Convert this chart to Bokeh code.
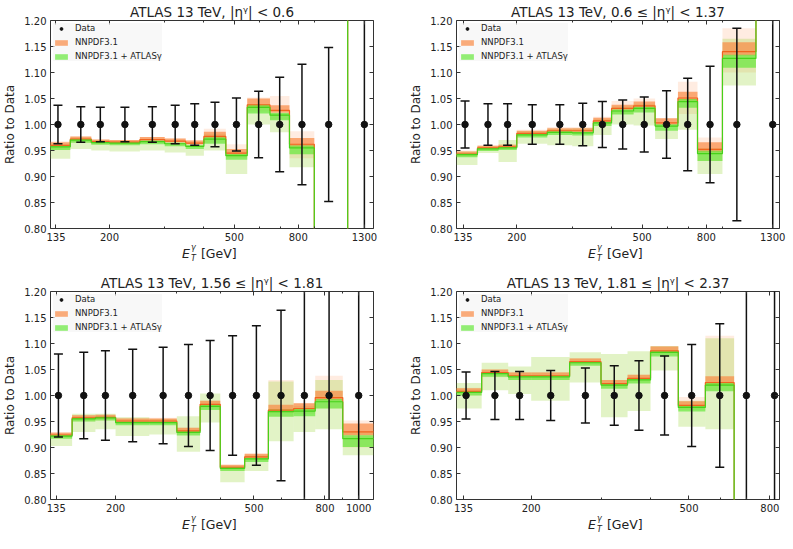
import math
from bokeh.plotting import figure
from bokeh.layouts import column, row
from bokeh.models import (Range1d, FixedTicker, PrintfTickFormatter, LinearAxis, LogAxis,
                          Legend, LegendItem, CustomJSTickFormatter, Div)
from bokeh.embed import file_html
from bokeh.resources import INLINE

FONT = "DejaVu Sans"

# ---------------- data ----------------
edges = [125, 150, 175, 200, 250, 300, 350, 400, 470, 550, 650, 750, 900, 1150, 1500]
et_points = [137, 162, 187, 224, 274, 324, 374, 434, 508, 598, 698, 822, 1000, 1300]
y_ticks = [0.80, 0.85, 0.90, 0.95, 1.00, 1.05, 1.10, 1.15, 1.20]

titles = ["ATLAS 13 TeV, |\u03b7\u1d5e| < 0.6",
          "ATLAS 13 TeV, 0.6 \u2264 |\u03b7\u1d5e| < 1.37",
          "ATLAS 13 TeV, 1.56 \u2264 |\u03b7\u1d5e| < 1.81",
          "ATLAS 13 TeV, 1.81 \u2264 |\u03b7\u1d5e| < 2.37"]
legend_labels = ["Data", "NNPDF3.1", "NNPDF3.1 + ATLAS\u03b3"]
x_label_html = ("<i>E</i><span style='position:relative;display:inline-block;width:7px;"
                "height:1px'><i style='position:absolute;left:1px;top:-14px;font-size:8px;"
                "line-height:9px'>\u03b3</i><i style='position:absolute;left:1px;top:-3px;"
                "font-size:8px;line-height:9px'>T</i></span> [GeV]")

x_ranges = [(129.7, 1390), (128.7, 1366), (130, 1103), (129.6, 846)]
major_ticks = [[135, 200, 500, 800, 1300], [135, 200, 500, 800, 1300],
               [135, 200, 500, 800, 1000], [135, 200, 500, 800]]
minor_ticks = [[300, 400, 600, 700, 900], [300, 400, 600, 700, 900],
               [300, 400, 600, 700, 900], [300, 400, 600, 700]]

# |eta| < 0.6
err_1 = [0.037, 0.034, 0.033, 0.033, 0.034, 0.037, 0.040, 0.043, 0.051, 0.064, 0.091, 0.116, 0.148, 0.35]
nn_1 = [0.960, 0.972, 0.967, 0.966, 0.971, 0.968, 0.964, 0.977, 0.945, 1.038, 1.027, 0.962, 0.55, 1.45]
ga_1 = [0.957, 0.970, 0.965, 0.964, 0.967, 0.963, 0.958, 0.972, 0.940, 1.033, 1.018, 0.955, 0.55, 1.45]
nn_lo_1 = [0.952, 0.965, 0.962, 0.961, 0.965, 0.962, 0.958, 0.965, 0.935, 1.025, 1.010, 0.935, 0.55, 1.45]
nn_hi_1 = [0.968, 0.977, 0.971, 0.970, 0.976, 0.973, 0.970, 0.992, 0.962, 1.052, 1.055, 0.987, 0.55, 1.45]
ga_lo_1 = [0.934, 0.953, 0.950, 0.948, 0.950, 0.946, 0.940, 0.950, 0.905, 1.000, 0.985, 0.918, 0.55, 1.45]
ga_hi_1 = [0.962, 0.975, 0.970, 0.968, 0.972, 0.968, 0.962, 0.982, 0.948, 1.038, 1.025, 0.962, 0.55, 1.45]
pdf_1 = [0.006, 0.005, 0.004, 0.004, 0.005, 0.005, 0.005, 0.009, 0.008, 0.012, 0.010, 0.012, 0.0, 0.0]

# 0.6 <= |eta| < 1.37
err_2 = [0.045, 0.040, 0.040, 0.038, 0.038, 0.041, 0.044, 0.047, 0.053, 0.065, 0.089, 0.112, 0.185, 0.40]
nn_2 = [0.943, 0.955, 0.957, 0.983, 0.988, 0.988, 1.007, 1.031, 1.036, 1.003, 1.051, 0.952, 1.140, 1.45]
ga_2 = [0.942, 0.953, 0.955, 0.980, 0.985, 0.984, 1.003, 1.026, 1.031, 0.997, 1.044, 0.944, 1.127, 1.45]
nn_lo_2 = [0.938, 0.950, 0.952, 0.978, 0.983, 0.983, 1.000, 1.020, 1.025, 0.995, 1.020, 0.930, 1.100, 1.45]
nn_hi_2 = [0.950, 0.960, 0.962, 0.990, 0.995, 0.995, 1.015, 1.045, 1.050, 1.012, 1.082, 0.975, 1.185, 1.45]
ga_lo_2 = [0.922, 0.945, 0.928, 0.963, 0.960, 0.958, 0.980, 1.000, 0.998, 0.972, 0.990, 0.905, 1.075, 1.45]
ga_hi_2 = [0.948, 0.958, 0.970, 0.987, 0.992, 0.993, 1.010, 1.035, 1.040, 1.000, 1.050, 0.955, 1.165, 1.45]
pdf_2 = [0.005, 0.004, 0.004, 0.005, 0.005, 0.005, 0.006, 0.007, 0.008, 0.009, 0.012, 0.014, 0.018, 0.0]

# 1.56 <= |eta| < 1.81
err_3 = [0.080, 0.083, 0.086, 0.089, 0.093, 0.098, 0.106, 0.115, 0.134, 0.164, 0.40, 0.40, 0.40]
nn_3 = [0.924, 0.957, 0.958, 0.951, 0.951, 0.932, 0.983, 0.862, 0.882, 0.972, 0.975, 0.996, 0.930]
ga_3 = [0.922, 0.955, 0.957, 0.948, 0.948, 0.929, 0.979, 0.860, 0.878, 0.969, 0.970, 0.988, 0.917]
nn_lo_3 = [0.918, 0.950, 0.952, 0.945, 0.945, 0.925, 0.975, 0.856, 0.875, 0.960, 0.965, 0.975, 0.900]
nn_hi_3 = [0.928, 0.962, 0.963, 0.957, 0.957, 0.938, 0.990, 0.866, 0.888, 1.030, 0.985, 1.038, 0.952]
ga_lo_3 = [0.903, 0.930, 0.935, 0.922, 0.925, 0.892, 0.948, 0.833, 0.855, 0.912, 0.930, 0.935, 0.885]
ga_hi_3 = [0.926, 0.965, 0.965, 0.958, 0.955, 0.960, 1.004, 0.865, 0.885, 1.027, 0.980, 1.030, 0.930]
pdf_3 = [0.005, 0.005, 0.005, 0.005, 0.005, 0.006, 0.007, 0.005, 0.006, 0.010, 0.010, 0.013, 0.016]

# 1.81 <= |eta| < 2.37
err_4 = [0.045, 0.046, 0.046, 0.048, 0.053, 0.057, 0.067, 0.076, 0.098, 0.138, 0.40, 0.40]
nn_4 = [1.008, 1.044, 1.038, 1.038, 1.065, 1.023, 1.033, 1.086, 0.981, 1.025, 0.55, 0.55]
ga_4 = [1.006, 1.042, 1.036, 1.036, 1.063, 1.020, 1.030, 1.083, 0.977, 1.020, 0.55, 0.55]
nn_lo_4 = [1.000, 1.035, 1.030, 1.030, 1.058, 1.015, 1.025, 1.078, 0.972, 1.010, 0.55, 0.55]
nn_hi_4 = [1.015, 1.050, 1.045, 1.045, 1.072, 1.030, 1.040, 1.095, 0.997, 1.115, 0.55, 0.55]
ga_lo_4 = [0.975, 1.010, 1.003, 0.990, 1.025, 0.958, 0.970, 1.048, 0.940, 0.935, 0.55, 0.55]
ga_hi_4 = [1.024, 1.063, 1.056, 1.074, 1.083, 1.080, 1.085, 1.095, 0.990, 1.110, 0.55, 0.55]
pdf_4 = [0.006, 0.006, 0.006, 0.006, 0.006, 0.007, 0.007, 0.008, 0.008, 0.012, 0.0, 0.0]

panels = [
    (err_1, nn_1, ga_1, nn_lo_1, nn_hi_1, ga_lo_1, ga_hi_1, pdf_1),
    (err_2, nn_2, ga_2, nn_lo_2, nn_hi_2, ga_lo_2, ga_hi_2, pdf_2),
    (err_3, nn_3, ga_3, nn_lo_3, nn_hi_3, ga_lo_3, ga_hi_3, pdf_3),
    (err_4, nn_4, ga_4, nn_lo_4, nn_hi_4, ga_lo_4, ga_hi_4, pdf_4),
]

# ---------------- style ----------------
OR_LIGHT, GR_LIGHT = "#ff8a46", "#86cc10"
OR_DARK, GR_DARK = "#fa8a44", "#66e83c"
OR_LINE, GR_LINE = "#f0641e", "#46d21a"
INK = "#222222"
FRAME = "#333333"

FW, FH = 323, 208
# left, right, top, bottom borders of each figure, and height of the x-label strip below
borders = [(45, 33, 19, 18, 25), (45, 8, 19, 18, 25),
           (45, 33, 19, 18, 18), (45, 8, 19, 18, 18)]


def style_axis(ax, size="10px"):
    ax.major_tick_in = 4
    ax.major_tick_out = 0
    ax.minor_tick_in = 2
    ax.minor_tick_out = 0
    ax.axis_line_color = None
    ax.major_tick_line_color = FRAME
    ax.minor_tick_line_color = FRAME
    ax.major_label_text_font = FONT
    ax.major_label_text_font_size = size
    ax.major_label_text_color = INK
    ax.major_label_standoff = 4


def make_panel(i):
    err, nn, ga, nn_lo, nn_hi, ga_lo, ga_hi, pdf = panels[i]
    n = len(nn)
    bl, br, bt, bb, strip = borders[i]
    x0, x1 = x_ranges[i]
    p = figure(x_axis_type="log", x_range=Range1d(x0, x1), y_range=Range1d(0.8, 1.2),
               frame_width=FW, frame_height=FH, min_border_left=bl, min_border_right=br,
               min_border_top=bt, min_border_bottom=bb, output_backend="svg",
               toolbar_location=None, title=titles[i], background_fill_color="white",
               border_fill_color="white")
    p.grid.visible = False
    p.outline_line_color = FRAME
    p.outline_line_width = 1
    p.title.align = "center"
    p.title.text_font = FONT
    p.title.text_font_size = "13.5px"
    p.title.text_font_style = "normal"
    p.title.text_color = INK
    p.title.standoff = 2

    left, right = edges[:n], edges[1:n + 1]
    # scale-variation (light) bands
    p.quad(left=left, right=right, bottom=nn_lo, top=nn_hi, fill_color=OR_LIGHT,
           fill_alpha=0.16, line_color=None)
    p.quad(left=left, right=right, bottom=ga_lo, top=ga_hi, fill_color=GR_LIGHT,
           fill_alpha=0.24, line_color=None)
    # PDF (dark) bands
    r_nn = p.quad(left=left, right=right, bottom=[c - 0.4 * w for c, w in zip(nn, pdf)],
                  top=[c + w for c, w in zip(nn, pdf)], fill_color=OR_DARK, fill_alpha=0.7,
                  line_color=None)
    r_ga = p.quad(left=left, right=right, bottom=[c - w for c, w in zip(ga, pdf)],
                  top=[c + 0.4 * w for c, w in zip(ga, pdf)], fill_color=GR_DARK, fill_alpha=0.7,
                  line_color=None)
    # central lines
    xe = edges[:n + 1]
    p.step(x=xe, y=nn + [nn[-1]], mode="after", line_color=OR_LINE, line_width=1.2)
    p.step(x=xe, y=ga + [ga[-1]], mode="after", line_color=GR_LINE, line_width=1.2)

    # data
    xs = et_points[:n]
    ones = [1.0] * n
    lo = [1 - e for e in err]
    hi = [1 + e for e in err]
    p.segment(x0=xs, y0=lo, x1=xs, y1=hi, line_color="#111111", line_width=1.5)
    p.scatter(x=xs + xs, y=lo + hi, marker="dash", size=9, line_color="#111111", line_width=1.5)
    r_dot = p.scatter(x=xs, y=ones, marker="circle", size=6.5, fill_color="#111111",
                      line_color="#111111")

    # axes
    xa = p.xaxis[0]
    xa.ticker = FixedTicker(ticks=major_ticks[i], minor_ticks=minor_ticks[i])
    xa.formatter = PrintfTickFormatter(format="%d")
    style_axis(xa)
    ya = p.yaxis[0]
    ya.ticker = FixedTicker(ticks=y_ticks)
    ya.formatter = PrintfTickFormatter(format="%.2f")
    style_axis(ya)
    ya.axis_label = "Ratio to Data"
    ya.axis_label_text_font = FONT
    ya.axis_label_text_font_size = "12px"
    ya.axis_label_text_font_style = "normal"
    ya.axis_label_text_color = INK
    ya.axis_label_standoff = 4

    ra = LinearAxis(ticker=FixedTicker(ticks=y_ticks),
                    formatter=CustomJSTickFormatter(code="return '';"))
    style_axis(ra, "0px")
    ra.major_label_standoff = 0
    ra.major_label_text_alpha = 0
    p.add_layout(ra, "right")
    ta = LogAxis(ticker=FixedTicker(ticks=major_ticks[i], minor_ticks=minor_ticks[i]),
                 formatter=CustomJSTickFormatter(code="return '';"))
    style_axis(ta, "0px")
    ta.major_label_standoff = 0
    ta.major_label_text_alpha = 0
    p.add_layout(ta, "above")

    legend = Legend(items=[LegendItem(label=legend_labels[0], renderers=[r_dot]),
                           LegendItem(label=legend_labels[1], renderers=[r_nn]),
                           LegendItem(label=legend_labels[2], renderers=[r_ga])],
                    location="top_left", label_text_font=FONT, label_text_font_size="8.5px",
                    label_text_color=INK, glyph_width=16, glyph_height=7, label_height=8,
                    spacing=4, padding=4, margin=3, label_standoff=6,
                    background_fill_color="#f4f4f4", background_fill_alpha=0.6,
                    border_line_color=None)
    p.add_layout(legend)

    # x-axis label E_T^gamma [GeV] as a text strip under the figure
    width = bl + FW + br
    lab = Div(text=("<div style=\"margin-left:%dpx;padding-top:2px;font-family:'DejaVu Sans';"
                    "font-size:12.5px;color:%s;line-height:1;white-space:nowrap\">%s</div>"
                    % (int(bl + FW / 2 - 24), INK, x_label_html)),
              width=width, height=strip, margin=0)
    return column(p, lab, spacing=0)


cells = [make_panel(i) for i in range(4)]
layout = column(row(cells[0], cells[1], spacing=0), row(cells[2], cells[3], spacing=0), spacing=0)

open("out.html", "w").write(file_html(layout, INLINE))
